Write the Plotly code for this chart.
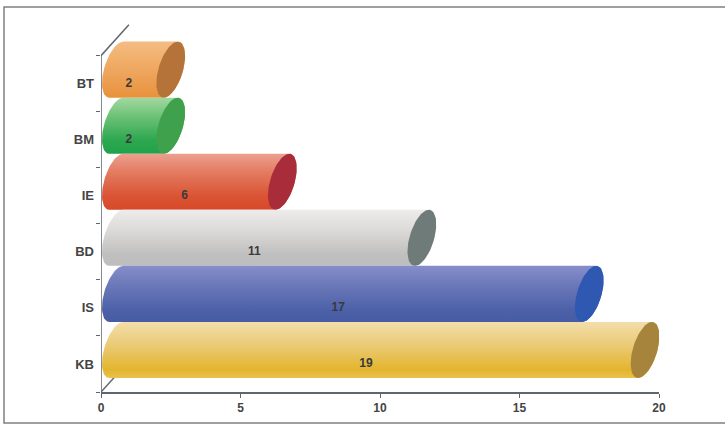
import numpy as np
import plotly.graph_objects as go

# ---- data ----
categories = ["KB", "IS", "BD", "IE", "BM", "BT"]
values = [19, 17, 11, 6, 2, 2]
x_ticks = [0, 5, 10, 15, 20]

# ---- styles ----
body_scales = [  # bottom -> top
    [[0, "#E9C24E"], [0.15, "#E3B52E"], [0.6, "#EBCB78"], [1, "#F3DEAA"]],
    [[0, "#485CA4"], [0.2, "#4C60A8"], [0.65, "#6B78B8"], [1, "#868ECA"]],
    [[0, "#BDBDBD"], [0.2, "#BFBFBF"], [0.65, "#DDDBD9"], [1, "#EEECEA"]],
    [[0, "#D6492A"], [0.25, "#DA5434"], [0.7, "#E47E64"], [1, "#EBA090"]],
    [[0, "#1FA24A"], [0.25, "#2EA850"], [0.7, "#72C47A"], [1, "#A2D8A0"]],
    [[0, "#E8923A"], [0.3, "#EC9E52"], [0.7, "#F1B06C"], [1, "#F4BC84"]],
]
cap_colors = ["#A6843C", "#2F58B2", "#6F7B79", "#A82C3A", "#3FA14C", "#B5733A"]
DEPTH_X = 1.0   # back-wall offset in x units
DEPTH_Y = 0.5   # back-wall offset in category units
RX = 0.45
RY = 0.5
SHEAR = 0.5     # x units per category unit (perspective lean of the end caps)

fig = go.Figure()

n = len(categories)
# axis decoration lines (front y-axis + depth diagonals)
fig.add_trace(go.Scatter(x=[0, 0, DEPTH_X], y=[-0.5, n - 0.5, n - 0.5 + DEPTH_Y * 1.1],
                         mode="lines", line=dict(color="#5E6670", width=1.5),
                         hoverinfo="skip", showlegend=False))
fig.add_trace(go.Scatter(x=[0, DEPTH_X], y=[-0.5, -0.5 + DEPTH_Y * 1.1],
                         mode="lines", line=dict(color="#5E6670", width=1.5),
                         hoverinfo="skip", showlegend=False))

t_left = np.linspace(np.pi / 2, 3 * np.pi / 2, 40)
t_right = np.linspace(-np.pi / 2, np.pi / 2, 40)
t_full = np.linspace(0, 2 * np.pi, 80)


def ell(cx, cy, t):
    return cx + RX * np.cos(t) + SHEAR * RY * np.sin(t), cy + RY * np.sin(t)


for i in reversed(range(n)):
    v = values[i]
    cx0 = DEPTH_X / 2 + 0.05
    cx1 = v + DEPTH_X / 2
    cy = i + DEPTH_Y / 2
    lx, ly = ell(cx0, cy, t_left)
    rx_, ry_ = ell(cx1, cy, t_right)
    xs = np.concatenate([lx, rx_, [lx[0]]])
    ys = np.concatenate([ly, ry_, [ly[0]]])
    fig.add_trace(go.Scatter(x=xs, y=ys, mode="lines", fill="toself",
                             line=dict(width=0),
                             fillgradient=dict(type="vertical", colorscale=body_scales[i]),
                             hoverinfo="skip", showlegend=False))
    cxs, cys = ell(cx1, cy, t_full)
    fig.add_trace(go.Scatter(x=cxs, y=cys, mode="lines", fill="toself", fillcolor=cap_colors[i],
                             line=dict(width=0), hoverinfo="skip", showlegend=False))

# value labels on the front plane
fig.add_trace(go.Scatter(x=[v / 2 for v in values], y=list(range(n)), mode="text",
                         text=[f"<b>{v}</b>" for v in values],
                         textfont=dict(family="Liberation Sans", size=12, color="#3A3A3A"),
                         hoverinfo="skip", showlegend=False))

L, R, T, B = 101, 66, 22, 34
W, H = 725, 426
pw, ph = W - L - R, H - T - B

fig.update_layout(
    width=W, height=H,
    margin=dict(l=L, r=R, t=T, b=B),
    paper_bgcolor="white", plot_bgcolor="white",
    xaxis=dict(range=[0, 20], tickvals=x_ticks, ticktext=[f"<b>{t}</b>" for t in x_ticks],
               showgrid=False, zeroline=False, showline=True, linecolor="#5E6670", linewidth=1.5,
               ticks="outside", ticklen=4, tickcolor="#5E6670", tickwidth=1,
               tickfont=dict(family="Liberation Sans", size=12, color="#444444"),
               fixedrange=True),
    yaxis=dict(range=[-0.5, 6.1], tickvals=list(range(n)),
               ticktext=[f"<b>{c}</b>" for c in categories],
               showgrid=False, zeroline=False, showline=False, ticks="",
               ticklabelstandoff=6,
               minor=dict(tickvals=[k - 0.5 for k in range(n + 1)], ticks="outside",
                          ticklen=4, tickcolor="#5E6670", showgrid=False),
               tickfont=dict(family="Liberation Sans", size=13, color="#444444"),
               fixedrange=True),
    shapes=[dict(type="rect", xref="paper", yref="paper",
                 x0=(4 - L) / pw, x1=(728 - L) / pw,
                 y0=(H - B - 423) / ph, y1=(H - B - 7) / ph,
                 line=dict(color="#808080", width=1.5), layer="below")],
)

fig.write_html("out.html")
